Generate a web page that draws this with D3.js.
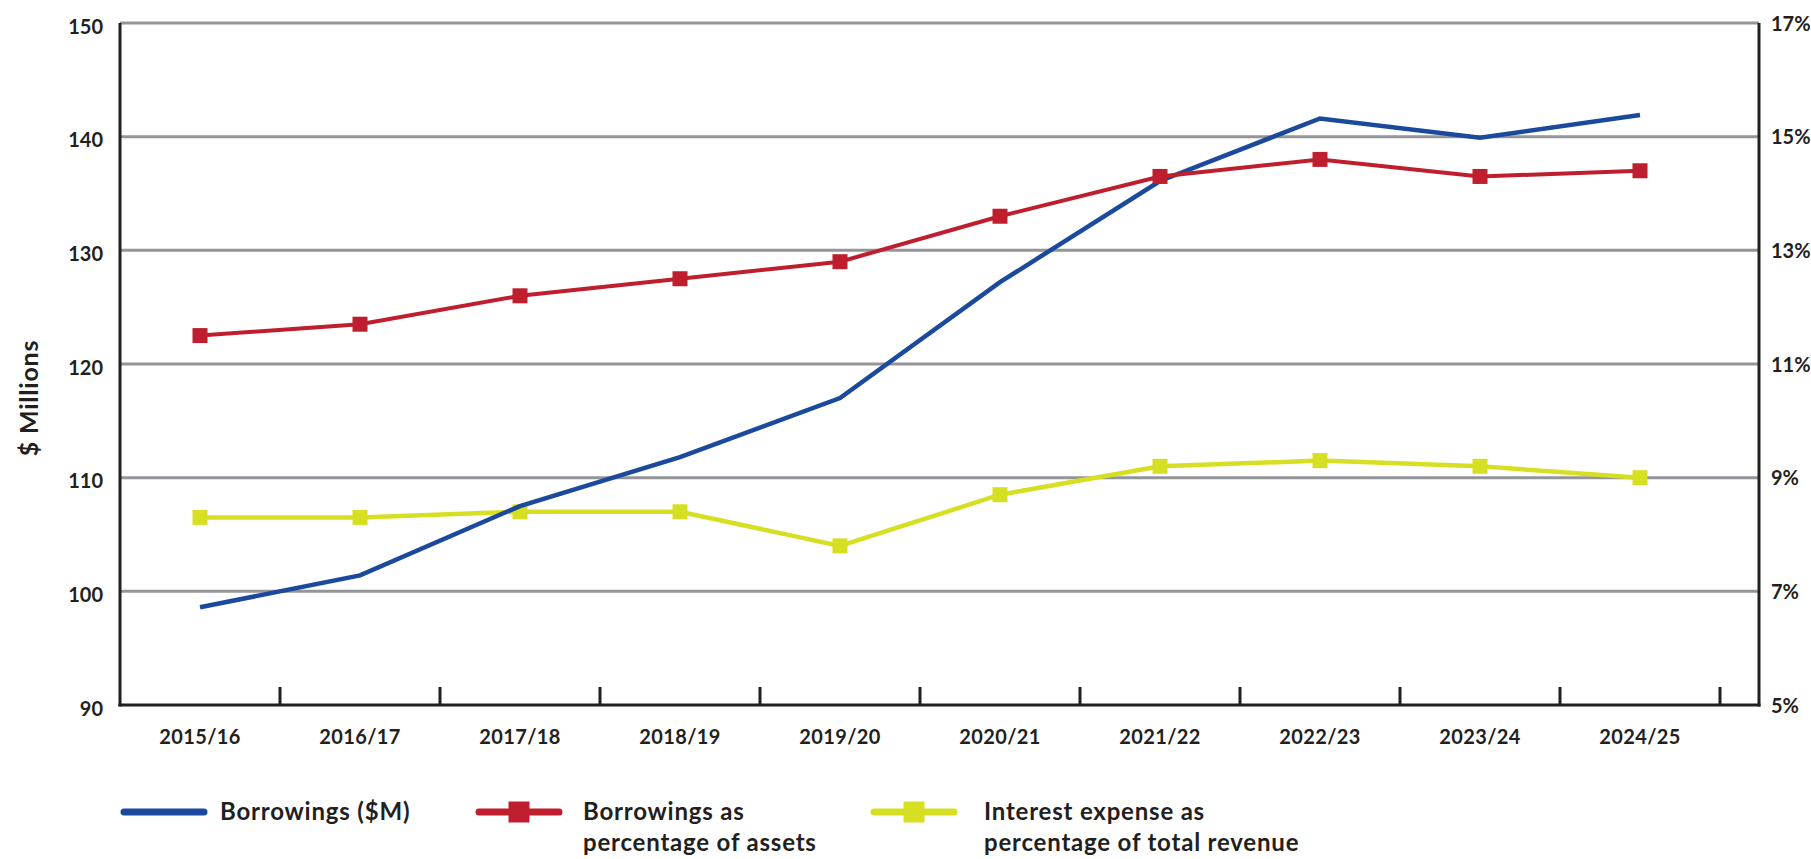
<!DOCTYPE html>
<html>
<head>
<meta charset="utf-8">
<script src="https://cdn.jsdelivr.net/npm/d3@7"></script>
<style>
  html, body { margin: 0; padding: 0; background: #ffffff; }
  svg { display: block; }
  text { font-family: Lato, "Open Sans", sans-serif; fill: #231f20; }
</style>
</head>
<body>
<svg id="chart" width="1811" height="859"></svg>
<script>
// Financial years on the category axis
const years = ["2015/16", "2016/17", "2017/18", "2018/19", "2019/20",
               "2020/21", "2021/22", "2022/23", "2023/24", "2024/25"];

// Borrowings in $ millions (left axis)
const borrowings = [98.6, 101.4, 107.5, 111.8, 117.0, 127.2, 136.1, 141.6, 139.9, 141.9];

// Borrowings as a percentage of assets (right axis)
const borrowingsPctAssets = [11.5, 11.7, 12.2, 12.5, 12.8, 13.6, 14.3, 14.6, 14.3, 14.4];

// Interest expense as a percentage of total revenue (right axis)
const interestPctRevenue = [8.3, 8.3, 8.4, 8.4, 7.8, 8.7, 9.2, 9.3, 9.2, 9.0];

// Axis tick values
const leftTicks = [90, 100, 110, 120, 130, 140, 150];
const rightTicks = [5, 7, 9, 11, 13, 15, 17];

const colors = { blue: "#1b4a9c", red: "#be1e2d", yellow: "#d7df23", grid: "#939598", axis: "#231f20" };

const svg = d3.select("#chart");

const plotLeft = 120, plotRight = 1759, plotTop = 23, plotBottom = 705;
const bandEnd = 1720;

const x = d3.scaleBand().domain(years).range([plotLeft, bandEnd]).padding(0);
const yL = d3.scaleLinear().domain([90, 150]).range([plotBottom, plotTop]);
const yR = d3.scaleLinear().domain([5, 17]).range([plotBottom, plotTop]);
const cx = d => x(d) + x.bandwidth() / 2;

// Horizontal gridlines
svg.append("g").selectAll("line").data(leftTicks.slice(1)).join("line")
  .attr("x1", plotLeft).attr("x2", plotRight)
  .attr("y1", d => yL(d)).attr("y2", d => yL(d))
  .attr("stroke", colors.grid).attr("stroke-width", 3);

// Left axis labels
const gL = svg.append("g").attr("transform", `translate(${plotLeft},0)`)
  .call(d3.axisLeft(yL).tickValues(leftTicks).tickSize(0).tickPadding(17));
gL.select(".domain").remove();
gL.selectAll("text").attr("font-size", 20).attr("font-weight", 700)
  .attr("fill", colors.axis).attr("dy", "0.5em").style("font-family", "Lato, sans-serif");

// Right axis labels
const gR = svg.append("g").attr("transform", `translate(${plotRight},0)`)
  .call(d3.axisRight(yR).tickValues(rightTicks).tickSize(0).tickPadding(12).tickFormat(d => d + "%"));
gR.select(".domain").remove();
gR.selectAll("text").attr("font-size", 20).attr("font-weight", 700)
  .attr("fill", colors.axis).attr("dy", "0.35em").style("font-family", "Lato, sans-serif");

// Category labels
const gX = svg.append("g").attr("transform", `translate(0,${plotBottom})`)
  .call(d3.axisBottom(x).tickSize(0).tickPadding(25));
gX.select(".domain").remove();
gX.selectAll("text").attr("font-size", 20).attr("font-weight", 700)
  .attr("letter-spacing", 0.4)
  .attr("fill", colors.axis).style("font-family", "Lato, sans-serif");

// Tick marks between categories, pointing up into the plot
svg.append("g").selectAll("line").data(years).join("line")
  .attr("x1", d => x(d) + x.step()).attr("x2", d => x(d) + x.step())
  .attr("y1", plotBottom).attr("y2", plotBottom - 18)
  .attr("stroke", colors.axis).attr("stroke-width", 3);

// Axis frame lines
svg.append("line").attr("x1", plotLeft).attr("x2", plotLeft).attr("y1", plotTop).attr("y2", plotBottom + 1.5)
  .attr("stroke", colors.axis).attr("stroke-width", 3);
svg.append("line").attr("x1", plotRight).attr("x2", plotRight).attr("y1", plotTop).attr("y2", plotBottom + 1.5)
  .attr("stroke", colors.axis).attr("stroke-width", 3);
svg.append("line").attr("x1", plotLeft - 1.5).attr("x2", plotRight + 1.5).attr("y1", plotBottom).attr("y2", plotBottom)
  .attr("stroke", colors.axis).attr("stroke-width", 3);

// Left axis title
svg.append("text")
  .attr("transform", `translate(38,398) rotate(-90)`)
  .attr("text-anchor", "middle")
  .attr("font-size", 25).attr("font-weight", 700)
  .attr("letter-spacing", 0.8)
  .text("$ Millions");

// Series lines
const lineL = d3.line().x((d, i) => cx(years[i])).y(d => yL(d));
const lineR = d3.line().x((d, i) => cx(years[i])).y(d => yR(d));

svg.append("path").datum(interestPctRevenue).attr("d", lineR)
  .attr("fill", "none").attr("stroke", colors.yellow).attr("stroke-width", 4.5);
svg.append("g").selectAll("rect").data(interestPctRevenue).join("rect")
  .attr("x", (d, i) => cx(years[i]) - 7.5).attr("y", d => yR(d) - 7.5)
  .attr("width", 15).attr("height", 15).attr("fill", colors.yellow);

svg.append("path").datum(borrowings).attr("d", lineL)
  .attr("fill", "none").attr("stroke", colors.blue).attr("stroke-width", 4.5);

svg.append("path").datum(borrowingsPctAssets).attr("d", lineR)
  .attr("fill", "none").attr("stroke", colors.red).attr("stroke-width", 4);
svg.append("g").selectAll("rect").data(borrowingsPctAssets).join("rect")
  .attr("x", (d, i) => cx(years[i]) - 7.5).attr("y", d => yR(d) - 7.5)
  .attr("width", 15).attr("height", 15).attr("fill", colors.red);

// Legend
const legendItems = [
  { color: colors.blue, marker: false, x: 124, tx: 220, lines: ["Borrowings ($M)"] },
  { color: colors.red, marker: true, x: 479, tx: 583, lines: ["Borrowings as", "percentage of assets"] },
  { color: colors.yellow, marker: true, x: 874, tx: 984, lines: ["Interest expense as", "percentage of total revenue"] }
];
const legendY = 812;
const lg = svg.append("g");
legendItems.forEach(item => {
  lg.append("line")
    .attr("x1", item.x).attr("x2", item.x + 80)
    .attr("y1", legendY).attr("y2", legendY)
    .attr("stroke", item.color).attr("stroke-width", 7).attr("stroke-linecap", "round");
  if (item.marker) {
    lg.append("rect")
      .attr("x", item.x + 40 - 10.5).attr("y", legendY - 10.5)
      .attr("width", 21).attr("height", 21).attr("fill", item.color);
  }
  const t = lg.append("text").attr("x", item.tx).attr("y", legendY + 8)
    .attr("font-size", 24).attr("font-weight", 700).attr("letter-spacing", 0.8);
  item.lines.forEach((s, k) => {
    t.append("tspan").attr("x", item.tx).attr("dy", k === 0 ? 0 : 31).text(s);
  });
});
</script>
</body>
</html>
